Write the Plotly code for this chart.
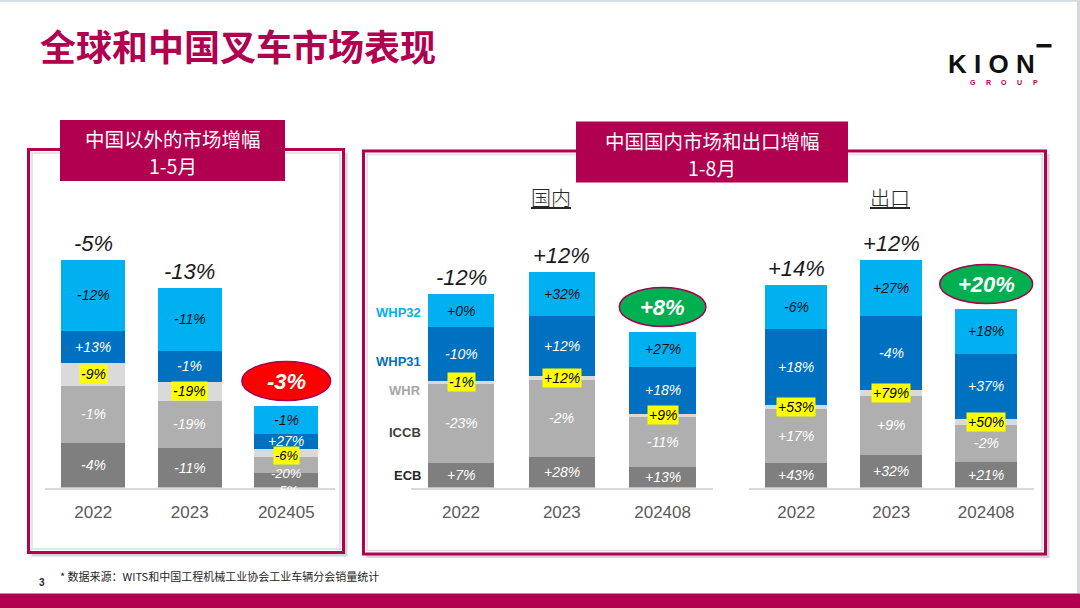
import plotly.graph_objects as go

W, H = 1080, 608

# ---------------- data ----------------
segments = ["ECB", "ICCB", "WHR", "WHP31", "WHP32"]

# Panel 1: outside China (Jan-May)
p1_categories = ["2022", "2023", "202405"]
p1_ecb = [45, 40, 15]
p1_iccb = [57, 47, 16]
p1_whr = [23, 19, 8]
p1_whp31 = [32, 31, 15]
p1_whp32 = [71, 63, 28]
p1_ecb_lbl = ["-4%", "-11%", "-5%"]
p1_iccb_lbl = ["-1%", "-19%", "-20%"]
p1_whr_lbl = ["-9%", "-19%", "-6%"]
p1_whp31_lbl = ["+13%", "-1%", "+27%"]
p1_whp32_lbl = ["-12%", "-11%", "-1%"]
p1_total_lbl = ["-5%", "-13%", "-3%"]

# Panel 2: China domestic (Jan-Aug)
p2_categories = ["2022", "2023", "202408"]
p2_ecb = [25, 31, 21]
p2_iccb = [79, 77, 50]
p2_whr = [2.5, 4, 3]
p2_whp31 = [54, 60, 47]
p2_whp32 = [33, 44, 35]
p2_ecb_lbl = ["+7%", "+28%", "+13%"]
p2_iccb_lbl = ["-23%", "-2%", "-11%"]
p2_whr_lbl = ["-1%", "+12%", "+9%"]
p2_whp31_lbl = ["-10%", "+12%", "+18%"]
p2_whp32_lbl = ["+0%", "+32%", "+27%"]
p2_total_lbl = ["-12%", "+12%", "+8%"]

# Panel 3: China export (Jan-Aug)
p3_categories = ["2022", "2023", "202408"]
p3_ecb = [25, 33, 26]
p3_iccb = [54, 59, 37]
p3_whr = [4, 6, 6]
p3_whp31 = [76, 74, 65]
p3_whp32 = [44, 56, 45]
p3_ecb_lbl = ["+43%", "+32%", "+21%"]
p3_iccb_lbl = ["+17%", "+9%", "-2%"]
p3_whr_lbl = ["+53%", "+79%", "+50%"]
p3_whp31_lbl = ["+18%", "-4%", "+37%"]
p3_whp32_lbl = ["-6%", "+27%", "+18%"]
p3_total_lbl = ["+14%", "+12%", "+20%"]

# highlighted totals (index of bar, fill colour, half width in categories)
highlights = {1: (2, "#FF0000", 0.46), 2: (2, "#00B050", 0.43), 3: (2, "#00B050", 0.49)}

# ---------------- styles ----------------
MAGENTA = "#B0004F"
seg_colors = {"ECB": "#7F7F7F", "ICCB": "#AFAFAF", "WHR": "#DADADA",
              "WHP31": "#0070C0", "WHP32": "#00B0F0"}
seg_text_colors = {"ECB": "#FFFFFF", "ICCB": "#FFFFFF", "WHR": "#000000",
                   "WHP31": "#FFFFFF", "WHP32": "#111111"}

panels = [
    dict(cats=p1_categories,
         vals=[p1_ecb, p1_iccb, p1_whr, p1_whp31, p1_whp32],
         lbls=[p1_ecb_lbl, p1_iccb_lbl, p1_whr_lbl, p1_whp31_lbl, p1_whp32_lbl],
         tot=p1_total_lbl, dom=(45, 334.5), width=0.66),
    dict(cats=p2_categories,
         vals=[p2_ecb, p2_iccb, p2_whr, p2_whp31, p2_whp32],
         lbls=[p2_ecb_lbl, p2_iccb_lbl, p2_whr_lbl, p2_whp31_lbl, p2_whp32_lbl],
         tot=p2_total_lbl, dom=(410.6, 713), width=0.66),
    dict(cats=p3_categories,
         vals=[p3_ecb, p3_iccb, p3_whr, p3_whp31, p3_whp32],
         lbls=[p3_ecb_lbl, p3_iccb_lbl, p3_whr_lbl, p3_whp31_lbl, p3_whp32_lbl],
         tot=p3_total_lbl, dom=(748.7, 1033.7), width=0.656),
]

# small vertical nudges / sizes for crowded labels (panel, segment, bar)
label_nudge = {(1, "WHR", 2): -2.5, (1, "ICCB", 2): -8.5, (1, "ECB", 2): -10}
label_size = {(1, "WHR", 2): 13, (1, "ICCB", 2): 13, (1, "ECB", 2): 13}


def px(x):
    return x / W


def py(y):
    return 1 - y / H


BASE = 487.5
YMAX = 300
ydom = [py(BASE), py(BASE - YMAX)]

fig = go.Figure()
annotations = []
shapes = []

# ---- slide decorations (below everything) ----
shapes.append(dict(type="rect", xref="paper", yref="paper", x0=px(0), x1=px(1080),
                   y0=py(593.5), y1=py(608), fillcolor=MAGENTA, line_width=0, layer="below"))
shapes.append(dict(type="line", xref="paper", yref="paper", x0=0, x1=1, y0=py(0.8), y1=py(0.8),
                   line=dict(color="#D5DAE0", width=2), layer="below"))
shapes.append(dict(type="line", xref="paper", yref="paper", x0=px(1078.5), x1=px(1078.5), y0=py(0), y1=py(593),
                   line=dict(color="#D5DAE0", width=3), layer="below"))

for (x0, y0, x1, y1) in [(28.5, 149.5, 343.5, 552.5), (363.5, 151, 1045.5, 554)]:
    # shadow
    shapes.append(dict(type="rect", xref="paper", yref="paper", x0=px(x0 + 3), x1=px(x1 + 4),
                       y0=py(y1 + 4), y1=py(y0 + 3), fillcolor="#D4D4D4", line_width=0, layer="below"))
    # box
    shapes.append(dict(type="rect", xref="paper", yref="paper", x0=px(x0), x1=px(x1),
                       y0=py(y1), y1=py(y0), fillcolor="#FFFFFF",
                       line=dict(color=MAGENTA, width=3), layer="below"))
    # inner bevel
    shapes.append(dict(type="rect", xref="paper", yref="paper", x0=px(x0 + 3.5), x1=px(x1 - 3.5),
                       y0=py(y1 - 3.5), y1=py(y0 + 3.5), fillcolor="rgba(0,0,0,0)",
                       line=dict(color="#DDDDDD", width=1.5), layer="below"))

# header boxes (two text lines each)
headers = [((60, 120, 285, 181), ["中国以外的市场增幅", "1-5月"]),
           ((576, 121.5, 848, 182.5), ["中国国内市场和出口增幅", "1-8月"])]
for (x0, y0, x1, y1), lines in headers:
    shapes.append(dict(type="rect", xref="paper", yref="paper", x0=px(x0), x1=px(x1),
                       y0=py(y1), y1=py(y0), fillcolor=MAGENTA, line_width=0, layer="below"))
    yc = (y0 + y1) / 2 + 1.5
    for k, line in enumerate(lines):
        annotations.append(dict(xref="paper", yref="paper", x=px((x0 + x1) / 2), y=py(yc - 13.5 + 27 * k),
                                text=line, showarrow=False, xanchor="center", yanchor="middle", borderpad=0,
                                font=dict(family="Noto Sans CJK SC", size=19.5, color="#FFFFFF")))

# ---- bars ----
for i, p in enumerate(panels, start=1):
    sfx = "" if i == 1 else str(i)
    xa, ya = "x" + sfx, "y" + sfx
    cum = [0.0] * len(p["cats"])
    for s, vals, lbls in zip(segments, p["vals"], p["lbls"]):
        fig.add_trace(go.Bar(x=p["cats"], y=vals, name=s, marker=dict(color=seg_colors[s], line_width=0),
                             width=p["width"], xaxis=xa, yaxis=ya, showlegend=False, hoverinfo="skip"))
        for j, (v, lb) in enumerate(zip(vals, lbls)):
            ann = dict(xref=xa, yref=ya, x=j, y=cum[j] + v / 2,
                       text="<i>" + lb + "</i>", showarrow=False,
                       font=dict(family="Liberation Sans", size=label_size.get((i, s, j), 14),
                                 color=seg_text_colors[s]),
                       yshift=label_nudge.get((i, s, j), 0))
            if s == "WHR":
                ann.update(bgcolor="#FFFF00", borderpad=1)
            annotations.append(ann)
            cum[j] += v
    totals = cum
    hl_idx, hl_col, hw = highlights[i]
    for j, t in enumerate(totals):
        if j == hl_idx:
            shapes.append(dict(type="circle", xref=xa, yref=ya, x0=j - hw, x1=j + hw,
                               y0=t + 5, y1=t + 44, fillcolor=hl_col,
                               line=dict(color="#A8004F", width=1.5), layer="above"))
            annotations.append(dict(xref=xa, yref=ya, x=j, y=t + 24.5,
                                    text="<b><i>" + p["tot"][j] + "</i></b>", showarrow=False,
                                    font=dict(family="Liberation Sans", size=22, color="#FFFFFF")))
        else:
            annotations.append(dict(xref=xa, yref=ya, x=j, y=t, yanchor="bottom", yshift=2,
                                    text="<i>" + p["tot"][j] + "</i>", showarrow=False,
                                    font=dict(family="Liberation Sans", size=22, color="#1A1A1A")))

# ---- axes ----
layout_axes = {}
for i, p in enumerate(panels, start=1):
    sfx = "" if i == 1 else str(i)
    layout_axes["xaxis" + sfx] = dict(domain=[px(p["dom"][0]), px(p["dom"][1])], anchor="y" + sfx,
                                      type="category", range=[-0.5, 2.5], showline=True,
                                      linecolor="#D9D9D9", linewidth=1.5, ticks="", showgrid=False,
                                      zeroline=False, ticklabelstandoff=8, fixedrange=True,
                                      tickfont=dict(family="Liberation Sans", size=17, color="#595959"))
    layout_axes["yaxis" + sfx] = dict(domain=ydom, anchor="x" + sfx, range=[0, YMAX], visible=False,
                                      showgrid=False, zeroline=False, fixedrange=True)

# ---- texts ----
annotations.append(dict(xref="paper", yref="paper", x=px(38), y=py(45), xanchor="left", yanchor="middle",
                        text="<b>全球和中国叉车市场表现</b>", showarrow=False,
                        font=dict(family="Noto Sans CJK SC", size=36, color=MAGENTA, weight=900)))
for txt, xc in [("<u>国内</u>", 551), ("<u>出口</u>", 890)]:
    annotations.append(dict(xref="paper", yref="paper", x=px(xc), y=py(198), xanchor="center", yanchor="middle",
                            text=txt, showarrow=False,
                            font=dict(family="Noto Sans CJK SC", size=20, color="#262626", weight=300)))
legend_labels = [("WHP32", "#00B0F0", 312), ("WHP31", "#0070C0", 361), ("WHR", "#A6A6A6", 390),
                 ("ICCB", "#404040", 432), ("ECB", "#262626", 475)]
for txt, col, yc in legend_labels:
    annotations.append(dict(xref="paper", yref="paper", x=px(423), y=py(yc), xanchor="right", yanchor="middle",
                            text="<b>" + txt + "</b>", showarrow=False,
                            font=dict(family="Liberation Sans", size=13, color=col)))
annotations.append(dict(xref="paper", yref="paper", x=px(58), y=py(576), xanchor="left", yanchor="middle",
                        text="* 数据来源：WITS和中国工程机械工业协会工业车辆分会销量统计", showarrow=False,
                        font=dict(family="Noto Sans CJK SC", size=11, color="#262626")))
annotations.append(dict(xref="paper", yref="paper", x=px(42), y=py(582), xanchor="center", yanchor="middle",
                        text="<b>3</b>", showarrow=False,
                        font=dict(family="Liberation Sans", size=10, color="#262626")))

# KION logo
annotations.append(dict(xref="paper", yref="paper", x=px(991), y=py(64), xanchor="center", yanchor="middle",
                        text="<b>K I O N</b>", showarrow=False,
                        font=dict(family="Liberation Sans", size=26, color="#111111")))
shapes.append(dict(type="rect", xref="paper", yref="paper", x0=px(1036.5), x1=px(1051.5),
                   y0=py(47.5), y1=py(44), fillcolor="#111111", line_width=0))
for k, ch in enumerate("GROUP"):
    annotations.append(dict(xref="paper", yref="paper", x=px(973 + k * 15.5), y=py(82.5),
                            xanchor="center", yanchor="middle", text="<b>" + ch + "</b>", showarrow=False,
                            font=dict(family="Liberation Sans", size=7, color=MAGENTA)))

fig.update_layout(width=W, height=H, margin=dict(l=0, r=0, t=0, b=0),
                  paper_bgcolor="#FFFFFF", plot_bgcolor="rgba(0,0,0,0)",
                  barmode="stack", bargap=0.3, showlegend=False,
                  annotations=annotations, shapes=shapes, **layout_axes)

fig.write_html("out.html", config={"displayModeBar": False},
               post_script="document.body.style.margin='0';document.body.style.overflow='hidden';")
